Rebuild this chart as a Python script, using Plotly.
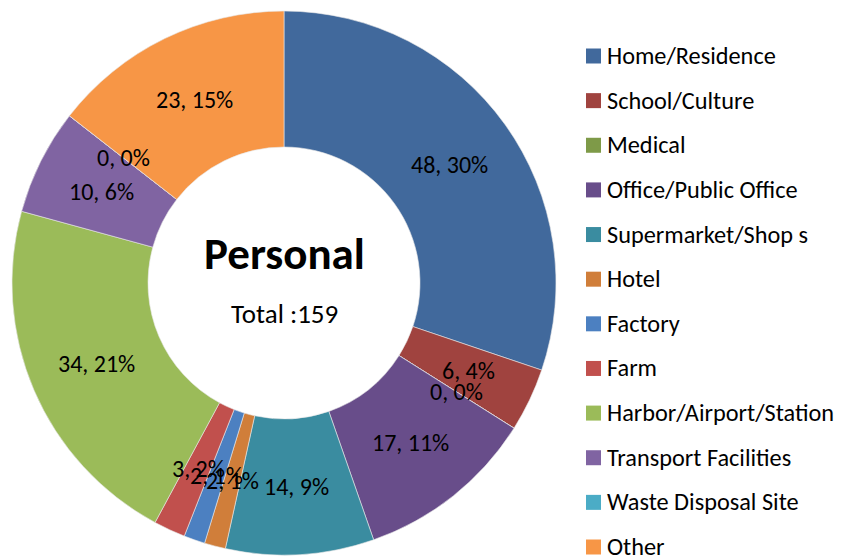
import math
import plotly.graph_objects as go

categories = ["Home/Residence", "School/Culture", "Medical", "Office/Public Office",
              "Supermarket/Shop s", "Hotel", "Factory", "Farm",
              "Harbor/Airport/Station", "Transport Facilities", "Waste Disposal Site", "Other"]
values = [48, 6, 0, 17, 14, 2, 2, 3, 34, 10, 0, 23]
percents = [30, 4, 0, 11, 9, 1, 1, 2, 21, 6, 0, 15]
colors = ["#41699C", "#A0433F", "#7E9A48", "#684D8A", "#3A8CA0", "#D07E3A",
          "#4C80C1", "#C1504D", "#9BBB59", "#8064A2", "#4BACC6", "#F79646"]
title_text = "Personal"
total_text = "Total :159"

FONT = "Carlito, Calibri, Lato, sans-serif"
W, H = 838, 550
MT, MB = 3, 3
HOLE = 0.5
CX_PX = 276
DOM_X = [0.0, 2 * CX_PX / W]

fig = go.Figure()
fig.add_trace(go.Pie(
    labels=categories, values=values, sort=False, direction="clockwise", rotation=0,
    hole=HOLE, marker=dict(colors=colors, line=dict(color="#E8E8E8", width=0.6)),
    textinfo="none", hoverinfo="label+value+percent", showlegend=False,
    domain=dict(x=DOM_X, y=[0, 1]),
))

plot_h = H - MT - MB
R = plot_h / 2
cx = (DOM_X[0] + DOM_X[1]) / 2 * W
cy = MT + R
r_lab = R * (1 + HOLE) / 2
total = sum(values)


def py2paper(py):
    return (H - MB - py) / plot_h


annotations = []
cum = 0
for v, p in zip(values, percents):
    mid = (cum + v / 2) / total * 2 * math.pi
    cum += v
    px = cx + r_lab * math.sin(mid)
    py = cy - r_lab * math.cos(mid)
    annotations.append(dict(
        x=px / W, y=py2paper(py), xref="paper", yref="paper",
        text=f"{v}, {p}%", showarrow=False, xanchor="center", yanchor="middle",
        font=dict(family=FONT, size=24, color="#000000"),
    ))

annotations.append(dict(x=cx / W, y=py2paper(cy - 29), xref="paper", yref="paper",
                        text="<b>" + title_text + "</b>", showarrow=False,
                        xanchor="center", yanchor="middle",
                        font=dict(family=FONT, size=45, color="#000000")))
annotations.append(dict(x=cx / W, y=py2paper(cy + 30), xref="paper", yref="paper",
                        text=total_text, showarrow=False,
                        xanchor="center", yanchor="middle",
                        font=dict(family=FONT, size=27, color="#000000")))

shapes = []
leg_top, leg_bottom = 48, 539
step = (leg_bottom - leg_top) / (len(categories) - 1)
for i, (name, col) in enumerate(zip(categories, colors)):
    yc = leg_top + i * step
    shapes.append(dict(type="rect", xref="paper", yref="paper",
                       x0=578 / W, x1=593 / W,
                       y0=py2paper(yc + 7.5), y1=py2paper(yc - 7.5),
                       fillcolor=col, line=dict(width=0)))
    annotations.append(dict(x=597 / W, y=py2paper(yc), xref="paper", yref="paper",
                            text=name, showarrow=False, xanchor="left", yanchor="middle",
                            font=dict(family=FONT, size=24.3, color="#000000")))

fig.update_layout(
    width=W, height=H, margin=dict(l=0, r=0, t=MT, b=MB),
    paper_bgcolor="white", plot_bgcolor="white",
    annotations=annotations, shapes=shapes, showlegend=False,
)
fig.write_html("out.html")
